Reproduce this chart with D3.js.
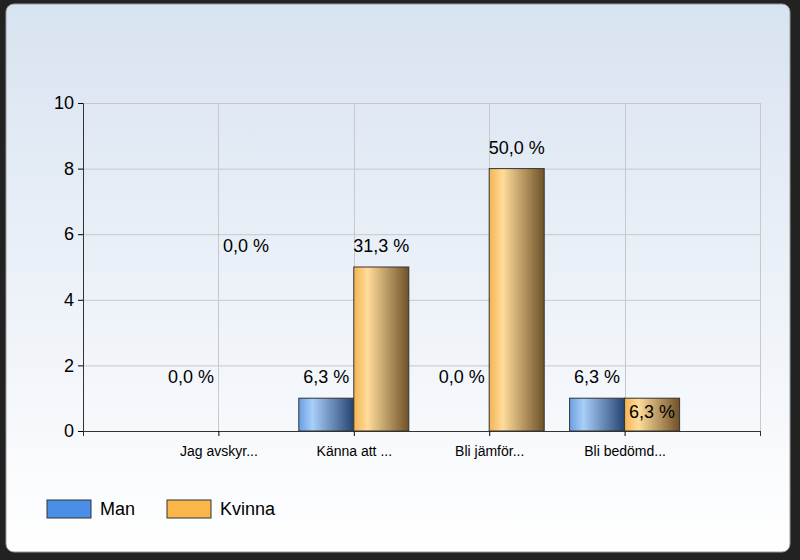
<!DOCTYPE html>
<html><head><meta charset="utf-8">
<script src="https://cdn.jsdelivr.net/npm/d3@7"></script>
<style>body{margin:0;background:#fff}svg{display:block;font-family:"Liberation Sans",Arial,sans-serif}</style>
</head><body><div id="chart"></div>
<script>
const categories = ["Jag avskyr...", "Känna att ...", "Bli jämför...", "Bli bedömd..."];
const seriesNames = ["Man", "Kvinna"];
const manValues = [0, 1, 0, 1];
const kvinnaValues = [0, 5, 8, 1];
const manPct = ["0,0 %", "6,3 %", "0,0 %", "6,3 %"];
const kvinnaPct = ["0,0 %", "31,3 %", "50,0 %", "6,3 %"];
const yTicks = [0, 2, 4, 6, 8, 10];

const width = 800, height = 560;
const svg = d3.select("#chart").append("svg").attr("width", width).attr("height", height);
const defs = svg.append("defs");

const bg = defs.append("linearGradient").attr("id", "bg").attr("x1", 0).attr("y1", 0).attr("x2", 0).attr("y2", 1);
bg.append("stop").attr("offset", "0%").attr("stop-color", "#d8e3f1");
bg.append("stop").attr("offset", "100%").attr("stop-color", "#ffffff");

function barGrad(id, light, mid, dark) {
  const g = defs.append("linearGradient").attr("id", id).attr("x1", 0).attr("x2", 1).attr("y1", 0).attr("y2", 0);
  g.append("stop").attr("offset", "0%").attr("stop-color", mid);
  g.append("stop").attr("offset", "25%").attr("stop-color", light);
  g.append("stop").attr("offset", "100%").attr("stop-color", dark);
}
barGrad("gMan", "#a9cef9", "#6a9fe0", "#24446e");
barGrad("gKv", "#ffdc9a", "#f3b453", "#6e5128");

svg.append("rect").attr("width", width).attr("height", height).attr("fill", "#222");
svg.append("rect").attr("x", 6).attr("y", 4).attr("width", 784).attr("height", 548).attr("rx", 8)
  .attr("fill", "url(#bg)").attr("stroke", "#999");

const x0 = 83, x1 = 760, yTop = 103, yBot = 431;
const x = d3.scalePoint().domain(categories).range([x0, x1]).padding(1);
const y = d3.scaleLinear().domain([0, 10]).range([yBot, yTop]);
const bw = 55;

const grid = svg.append("g").attr("stroke", "#c8c8cc").attr("stroke-width", 1);
yTicks.forEach(t => grid.append("line").attr("x1", x0).attr("x2", x1).attr("y1", y(t) + .5).attr("y2", y(t) + .5));
const vlines = [x0, ...categories.map(c => x(c)), x1];
vlines.forEach(v => grid.append("line").attr("x1", Math.round(v) + .5).attr("x2", Math.round(v) + .5).attr("y1", yTop).attr("y2", yBot));

const yAxis = svg.append("g").attr("transform", `translate(${x0},0)`)
  .call(d3.axisLeft(y).tickValues(yTicks).tickSize(5).tickPadding(4));
yAxis.select(".domain").attr("stroke", "#333");
yAxis.selectAll("text").attr("font-size", 18).attr("fill", "#000").attr("font-family", "Liberation Sans, Arial");

const xAxis = svg.append("g").attr("transform", `translate(0,${yBot})`)
  .call(d3.axisBottom(x).tickSize(5).tickPadding(10).tickSizeOuter(5));
xAxis.select(".domain").attr("stroke", "#333");
xAxis.selectAll("text").attr("font-size", 14).attr("fill", "#000").attr("font-family", "Liberation Sans, Arial");
[x0, x1].forEach(v => svg.append("line").attr("x1", v + .5).attr("x2", v + .5).attr("y1", yBot).attr("y2", yBot + 5).attr("stroke", "#333"));

const series = [
  { vals: manValues, pct: manPct, fill: "url(#gMan)", off: -1 },
  { vals: kvinnaValues, pct: kvinnaPct, fill: "url(#gKv)", off: 0 }
];
series.forEach((s, si) => {
  categories.forEach((c, i) => {
    const bx = x(c) + s.off * bw;
    const v = s.vals[i];
    if (v > 0) svg.append("rect").attr("x", bx).attr("y", y(v)).attr("width", bw).attr("height", yBot - y(v))
      .attr("fill", s.fill).attr("stroke", "#333");
    let lv = v;
    if (v === 0) { for (let j = i + 1; j < s.vals.length; j++) if (s.vals[j] > 0) { lv = s.vals[j]; break; } }
    let ly = y(lv) - 15;
    if (si === 1 && v > 0 && v === manValues[i]) ly = y(lv) + 20;
    svg.append("text").attr("x", bx + bw / 2).attr("y", ly).attr("text-anchor", "middle")
      .attr("font-size", 18).text(s.pct[i]);
  });
});

const leg = [{ n: seriesNames[0], f: "#4a8ee8", x: 47 }, { n: seriesNames[1], f: "#fbb64a", x: 167 }];
leg.forEach(l => {
  svg.append("rect").attr("x", l.x).attr("y", 500).attr("width", 44).attr("height", 18).attr("fill", l.f).attr("stroke", "#333");
  svg.append("text").attr("x", l.x + 53).attr("y", 515).attr("font-size", 18).text(l.n);
});
</script></body></html>
